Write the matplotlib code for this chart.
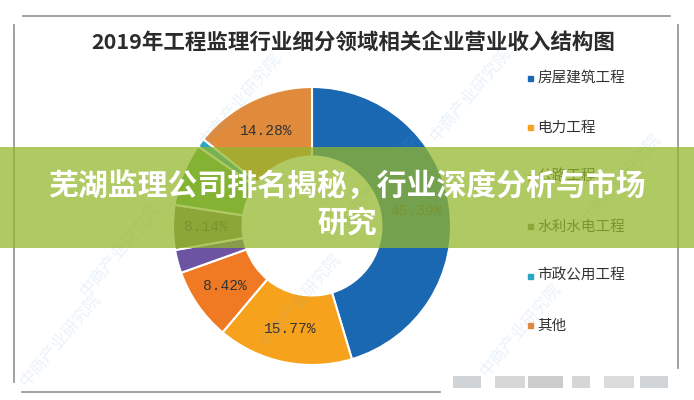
import matplotlib
matplotlib.use("Agg")
import matplotlib.pyplot as plt
from matplotlib.patches import Rectangle
from matplotlib.lines import Line2D
import numpy as np

plt.rcParams['font.family'] = ['Noto Sans CJK SC', 'DejaVu Sans']

title = '2019年工程监理行业细分领域相关企业营业收入结构图'
banner = ['芜湖监理公司排名揭秘，行业深度分析与市场', '研究']

# clockwise from 12 o'clock
categories = ['房屋建筑工程', '电力工程', '公路工程', '铁路工程',
              '水利水电工程', '港口与航道工程', '市政公用工程', '其他']
shares = [45.39, 15.77, 8.42, 2.7, 5.2, 7.3, 1.0, 14.28]
label_text = ['45.39%', '15.77%', '8.42%', '', '8.14%', '', '', '14.28%']
colors = ['#1a67b2', '#f6a21c', '#f07a24', '#6c54a2',
          '#7d7a5a', '#5cad48', '#2aa6c4', '#e08a3c']
legend_idx = [0, 1, 2, 4, 6, 7]

W, H = 694, 400
fig = plt.figure(figsize=(W / 100, H / 100), dpi=100)

def fx(x):
    return x / W

def fy(y):
    return 1 - y / H

# donut
cx, cy, R = 312, 226, 139
ax = fig.add_axes([fx(cx - R), fy(cy + R), 2 * R / W, 2 * R / H])
wedges, _ = ax.pie(shares, colors=colors, startangle=90, counterclock=False,
                   radius=1, wedgeprops=dict(width=0.5, edgecolor='white', linewidth=1.5))
ax.set_xlim(-1, 1)
ax.set_ylim(-1, 1)
ax.axis('off')

for w, t in zip(wedges, label_text):
    if not t:
        continue
    ang = np.deg2rad((w.theta1 + w.theta2) / 2)
    ax.text(0.76 * np.cos(ang), 0.76 * np.sin(ang), t, ha='center', va='center',
            fontsize=10.5, color='#333333', family=['Liberation Mono', 'DejaVu Sans Mono'])

# title
fig.text(fx(353), fy(42), title, ha='center', va='center', fontsize=15.5,
         fontweight='bold', color='#2b2b2b')

# legend
for k, i in enumerate(legend_idx):
    y = 78 + k * 49.5
    fig.add_artist(Rectangle((fx(528), fy(y + 2.5)), 5 / W, 5 / H, color=colors[i],
                             transform=fig.transFigure))
    fig.text(fx(537), fy(y), categories[i], ha='left', va='center',
             fontsize=10.5, color='#333333')

# frame of the screenshot
frame_col = '#9a9a9a'
for (x0, y0, x1, y1) in [(23, 16, 670, 16), (14, 25, 14, 382),
                          (678, 25, 678, 368), (22, 392, 440, 392)]:
    fig.add_artist(Line2D([fx(x0), fx(x1)], [fy(y0), fy(y1)], color=frame_col,
                          lw=1.3, transform=fig.transFigure))

# blurred source line
blocks = [(453, 28, '#9aa0a8'), (495, 30, '#a8a8a8'), (528, 35, '#8e8e8e'),
          (572, 18, '#a5a5a5'), (604, 30, '#b0b0b0'), (640, 28, '#9ca2a8')]
for x, w, c in blocks:
    fig.add_artist(Rectangle((fx(x), fy(388)), w / W, 12 / H, color=c, alpha=0.45,
                             transform=fig.transFigure, lw=0))

# faint watermarks
for x, y in [(240, 100), (470, 95), (120, 250), (300, 300), (520, 330),
             (60, 340), (620, 180), (380, 180)]:
    fig.text(fx(x), fy(y), '中商产业研究院', rotation=50, ha='center', va='center',
             fontsize=12, color='#6fa8dc', alpha=0.15)

# banner overlay
fig.add_artist(Rectangle((0, fy(248)), 1, 101 / H, color='#93b62c', alpha=0.74,
                         transform=fig.transFigure, lw=0, zorder=5))
fig.text(fx(347), fy(187), banner[0], ha='center', va='center', fontsize=21.5,
         fontweight='bold', color='white', zorder=6)
fig.text(fx(347), fy(223), banner[1], ha='center', va='center', fontsize=21.5,
         fontweight='bold', color='white', zorder=6)

fig.savefig('out.png', dpi=100)
